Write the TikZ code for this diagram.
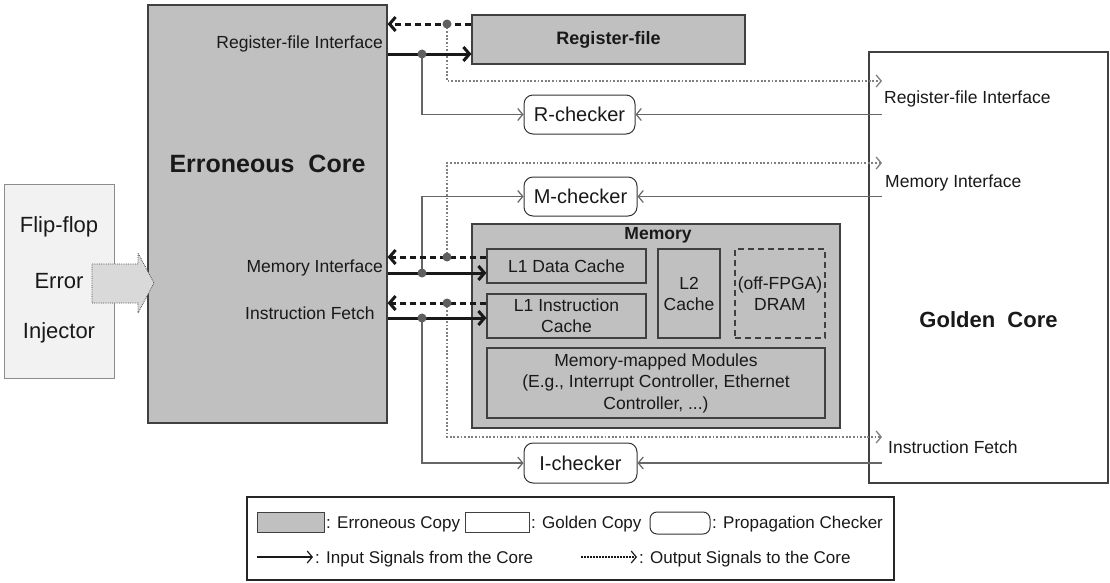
\documentclass[tikz,border=0pt]{standalone}
\usepackage{fontspec}
\setmainfont{Liberation Sans}
\usetikzlibrary{arrows.meta}
\definecolor{errgray}{HTML}{C0C0C0}
\definecolor{edgec}{HTML}{404040}
\definecolor{sigline}{HTML}{666666}
\definecolor{dotline}{HTML}{808080}
\definecolor{dotc}{HTML}{5F5F5F}
\definecolor{ffill}{HTML}{F2F2F2}
\definecolor{arrfill}{HTML}{D9D9D9}
\tikzset{
  txt/.style={font=\fontsize{17.5}{21}\selectfont, text=black!90, inner sep=0pt, align=center},
  lgtxt/.style={font=\fontsize{17}{20}\selectfont, text=black!90, inner sep=0pt, anchor=base west},
  errbox/.style={draw=edgec, fill=errgray, line width=1.2pt, inner sep=0pt, text=black!90},
  goldbox/.style={draw=edgec, fill=white, line width=1.2pt, inner sep=0pt},
  chkbox/.style={draw=black!80, fill=white, rounded corners=9pt, line width=1pt, inner sep=0pt, text=black!90, font=\fontsize{20}{24}\selectfont},
  inarrow/.style={line width=3pt, black!90, -{Straight Barb[length=6pt,width=14pt]}},
  outarrow/.style={line width=3pt, black!90, dash pattern=on 6pt off 4pt, -{Straight Barb[length=6pt,width=14pt]}},
  sigarrow/.style={line width=1.2pt, sigline, -{Straight Barb[length=5pt,width=12pt]}},
  dotarrow/.style={line width=1.3pt, dotline, dash pattern=on 1.8pt off 1.8pt, -{Straight Barb[length=5pt,width=12pt]}},
  jdot/.style={fill=dotc}
}
\begin{document}
\begin{tikzpicture}[x=1pt,y=-1pt]
\useasboundingbox (0,0) rectangle (1110,582);

% Golden core
\node[goldbox, minimum width=239pt, minimum height=431pt] (gcore) at (988.5,267.5) {};
\node[txt, font=\bfseries\fontsize{22}{26}\selectfont] (glabel) at (988.5,320) {Golden\ \ Core};
\node[txt, anchor=base west] (gRF) at (884,103) {Register-file Interface};
\node[txt, anchor=base west] (gMI) at (885,187) {Memory Interface};
\node[txt, anchor=base west] (gIF) at (888,453) {Instruction Fetch};

% Erroneous core
\node[errbox, minimum width=239pt, minimum height=418pt] (ecore) at (267.5,214) {};
\node[txt, font=\bfseries\fontsize{25}{30}\selectfont] (elabel) at (267.5,164) {Erroneous\ \ Core};
\node[txt, anchor=base east] (eRF) at (383,48) {Register-file Interface};
\node[txt, anchor=base east] (eMI) at (383,272) {Memory Interface};
\node[txt, anchor=base west] (eIF) at (245,319) {Instruction Fetch};

% Flip-flop error injector
\node[draw=black!45, fill=ffill, line width=1pt, minimum width=110pt, minimum height=194pt] (ffei) at (59,281) {};
\node[txt, font=\fontsize{22}{26}\selectfont] (ff1) at (59,227) {Flip-flop};
\node[txt, font=\fontsize{22}{26}\selectfont] (ff2) at (59,281) {Error};
\node[txt, font=\fontsize{22}{26}\selectfont] (ff3) at (59,333) {Injector};
\draw[fill=arrfill, draw=black!70, line width=0.8pt, densely dotted]
  (92,264) -- (138,264) -- (138,253) -- (154,283) -- (138,313) -- (138,303) -- (92,303) -- cycle;

% Register file
\node[errbox, minimum width=273pt, minimum height=49pt, font=\bfseries\fontsize{18}{22}\selectfont] (regfile) at (608.5,39.5) {Register-file};

% Memory
\node[errbox, minimum width=368pt, minimum height=204pt] (mem) at (656,326) {};
\node[txt, font=\bfseries\fontsize{17.5}{21}\selectfont] (memlabel) at (658,235) {Memory};
\node[errbox, minimum width=159pt, minimum height=34pt, font=\fontsize{17.5}{21}\selectfont] (l1d) at (566.5,266) {L1 Data Cache};
\node[errbox, minimum width=159pt, minimum height=44pt, align=center, font=\fontsize{17.5}{21}\selectfont] (l1i) at (566.5,316) {L1 Instruction\\Cache};
\node[errbox, minimum width=62pt, minimum height=89pt, align=center, font=\fontsize{17.5}{21}\selectfont] (l2) at (689,293.5) {L2\\Cache};
\node[errbox, dash pattern=on 6pt off 4pt, minimum width=90pt, minimum height=89pt, align=center, font=\fontsize{17.5}{21}\selectfont] (dram) at (780,293.5) {(off-FPGA)\\DRAM};
\node[errbox, minimum width=338pt, minimum height=70pt, align=center, font=\fontsize{17.5}{21.5}\selectfont] (mmm) at (656,383) {Memory-mapped Modules\\(E.g., Interrupt Controller, Ethernet\\Controller, ...)};

% Checkers
\node[chkbox, minimum width=111pt, minimum height=39pt] (rchk) at (579.5,114.5) {R-checker};
\node[chkbox, minimum width=113pt, minimum height=39pt] (mchk) at (580.5,196.5) {M-checker};
\node[chkbox, minimum width=113pt, minimum height=40pt] (ichk) at (580.5,463) {I-checker};

% Junctions and free ends
\coordinate (jRo) at (447,24);
\coordinate (jRi) at (422,54);
\coordinate (jMo) at (447,257);
\coordinate (jMi) at (422,273);
\coordinate (jIo) at (447,303);
\coordinate (jIi) at (422,318);
\coordinate (gRo) at (882,81);
\coordinate (gRi) at (882,114.5);
\coordinate (gMo) at (882,163);
\coordinate (gMi) at (882,196.5);
\coordinate (gIo) at (882,437);
\coordinate (gIi) at (882,463);

% Dotted outputs to golden core
\draw[dotarrow] (jRo) |- (gRo);
\draw[dotarrow] (jMo) |- (gMo);
\draw[dotarrow] (jIo) |- (gIo);

% Checker inputs
\draw[sigarrow] (jRi) |- (rchk.west);
\draw[sigarrow] (jMi) |- (mchk.west);
\draw[sigarrow] (jIi) |- (ichk.west);
\draw[sigarrow] (gRi) -- (rchk.east);
\draw[sigarrow] (gMi) -- (mchk.east);
\draw[sigarrow] (gIi) -- (ichk.east);

% Thick core signals
\draw[inarrow] (ecore.east |- jRi) -- (regfile.west |- jRi);
\draw[outarrow] (regfile.west |- jRo) -- (ecore.east |- jRo);
\draw[inarrow] (ecore.east |- jMi) -- (l1d.west |- jMi);
\draw[outarrow] (l1d.west |- jMo) -- (ecore.east |- jMo);
\draw[inarrow] (ecore.east |- jIi) -- (l1i.west |- jIi);
\draw[outarrow] (l1i.west |- jIo) -- (ecore.east |- jIo);

% Junction dots
\foreach \j in {jRo,jRi,jMo,jMi,jIo,jIi} \fill[jdot] (\j) circle (4.5);

% Legend
\node[draw=black!85, line width=1.2pt, minimum width=647pt, minimum height=83pt, fill=white] (legend) at (570.5,538.5) {};
\node[errbox, line width=1pt, minimum width=67pt, minimum height=20pt] (lgE) at (290.5,522) {};
\node[lgtxt] (ltE) at (326,528) {: Erroneous Copy};
\node[goldbox, line width=1pt, minimum width=64pt, minimum height=20pt] (lgG) at (497,522) {};
\node[lgtxt] (ltG) at (531,528) {: Golden Copy};
\node[chkbox, rounded corners=7pt, minimum width=60pt, minimum height=22pt] (lgC) at (680,523) {};
\node[lgtxt] (ltC) at (712,528) {: Propagation Checker};
\coordinate (la1) at (257,557);
\coordinate (la2) at (313,557);
\draw[line width=1.2pt, black!90, -{Straight Barb[length=5pt,width=12pt]}] (la1) -- (la2);
\node[lgtxt] (ltI) at (315,563) {: Input Signals from the Core};
\coordinate (lb1) at (581,557);
\coordinate (lb2) at (637,557);
\draw[line width=1.2pt, black!90, dash pattern=on 1.5pt off 1.5pt, -{Straight Barb[length=5pt,width=12pt]}] (lb1) -- (lb2);
\node[lgtxt] (ltO) at (639,563) {: Output Signals to the Core};
\end{tikzpicture}
\end{document}
